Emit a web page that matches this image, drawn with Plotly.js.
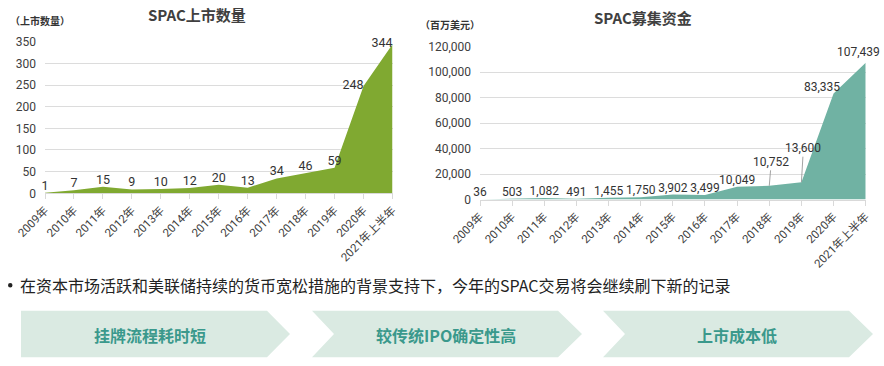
<!DOCTYPE html>
<html>
<head>
<meta charset="utf-8">
<script src="https://cdn.plot.ly/plotly-3.0.1.min.js"></script>
<style>html,body{margin:0;padding:0;background:#fff;}#chart{width:884px;height:366px;}</style>
</head>
<body>
<div id="chart"></div>
<script>
// ---- data ----
const years = ['2009年','2010年','2011年','2012年','2013年','2014年','2015年','2016年','2017年','2018年','2019年','2020年','2021年上半年'];
const listingCounts = [1, 7, 15, 9, 10, 12, 20, 13, 34, 46, 59, 248, 344];
const fundsRaised = [36, 503, 1082, 491, 1455, 1750, 3902, 3499, 10049, 10752, 13600, 83335, 107439];
const leftTitle = 'SPAC上市数量';
const rightTitle = 'SPAC募集资金';
const leftUnit = '（上市数量）';
const rightUnit = '（百万美元）';
const bulletText = '在资本市场活跃和美联储持续的货币宽松措施的背景支持下，今年的SPAC交易将会继续刷下新的记录';
const highlights = ['挂牌流程耗时短', '较传统IPO确定性高', '上市成本低'];

// ---- helpers (pixel -> paper) ----
const W = 884, H = 366;
const px = x => x / W;
const py = y => (H - y) / H;

const FONT = 'Roboto, "Noto Sans CJK SC", sans-serif';
const CJK = '"Noto Sans CJK SC", Roboto, sans-serif';
const LBL = {family: FONT, size: 12, color: '#333'};

const fmt = v => v.toLocaleString('en-US');
const leftPos = listingCounts.map((v, i) => i >= 11 ? 'middle left' : 'top center');
const leaderIdx = [9, 10];
const n = fundsRaised.length;
const annIdx = [n - 2, n - 1];
const rightText = fundsRaised.map((v, i) => (leaderIdx.includes(i) || annIdx.includes(i)) ? '' : fmt(v));

const traces = [
  {
    x: years, y: listingCounts, type: 'scatter', mode: 'lines+text',
    fill: 'tozeroy', fillcolor: '#80A931', line: {width: 0, color: '#80A931'},
    text: listingCounts.map(String), textposition: leftPos,
    textfont: {family: FONT, size: 12.5, color: '#333'},
    cliponaxis: false, hoverinfo: 'skip', xaxis: 'x', yaxis: 'y'
  },
  {
    x: years, y: fundsRaised, type: 'scatter', mode: 'lines+text',
    fill: 'tozeroy', fillcolor: '#70B2A3', line: {width: 0, color: '#70B2A3'},
    text: rightText, textposition: 'top center',
    textfont: LBL,
    cliponaxis: false, hoverinfo: 'skip', xaxis: 'x2', yaxis: 'y2'
  }
];

const xCommon = {
  type: 'category', range: [0, years.length - 1], tickangle: -45,
  showline: true, linecolor: '#d9d9d9', linewidth: 1,
  ticks: 'outside', ticklen: 5, tickcolor: '#d9d9d9',
  showgrid: false, zeroline: false, automargin: false,
  tickfont: {family: FONT, size: 11.5, color: '#404040'}
};
const yCommon = {
  showline: false, gridcolor: '#dcdcdc', gridwidth: 1, zeroline: false,
  ticks: '', automargin: false, ticklabelstandoff: 8,
  tickfont: {family: FONT, size: 12, color: '#404040'}
};

const annotations = [
  {text: '<b>' + leftTitle + '</b>', xref: 'paper', yref: 'paper', x: px(197), y: py(14), showarrow: false,
   font: {family: CJK, size: 15, color: '#404040'}, xanchor: 'center', yanchor: 'middle'},
  {text: '<b>' + rightTitle + '</b>', xref: 'paper', yref: 'paper', x: px(643), y: py(17), showarrow: false,
   font: {family: CJK, size: 15, color: '#404040'}, xanchor: 'center', yanchor: 'middle'},
  {text: '<b>' + leftUnit + '</b>', xref: 'paper', yref: 'paper', x: px(8), y: py(21), showarrow: false,
   font: {family: CJK, size: 10, color: '#333'}, xanchor: 'left', yanchor: 'middle'},
  {text: '<b>' + rightUnit + '</b>', xref: 'paper', yref: 'paper', x: px(418), y: py(25), showarrow: false,
   font: {family: CJK, size: 10, color: '#333'}, xanchor: 'left', yanchor: 'middle'},
  {text: bulletText, xref: 'paper', yref: 'paper', x: px(18), y: py(285), showarrow: false,
   font: {family: CJK, size: 16, color: '#222'}, xanchor: 'left', yanchor: 'middle'}
];

leaderIdx.forEach((i, k) => {
  annotations.push({
    xref: 'x2', yref: 'y2', x: years[i], y: fundsRaised[i],
    text: fmt(fundsRaised[i]), showarrow: true, arrowhead: 0,
    arrowwidth: 0.8, arrowcolor: '#8c8c8c', ax: 2, ay: k === 0 ? -24 : -34, standoff: 0,
    font: LBL
  });
});
annIdx.forEach((i, k) => {
  annotations.push({
    xref: 'x2', yref: 'y2', x: years[i], y: fundsRaised[i],
    text: fmt(fundsRaised[i]), showarrow: false, xanchor: 'right', yanchor: 'middle',
    xshift: k === 0 ? 8 : 16, yshift: k === 0 ? 6 : 11, font: LBL
  });
});

const chevX = [[21, 267, 290, 21], [312, 558, 582, 334], [603, 849, 873, 625]];
const chevTextX = [150, 446, 737];
const shapes = [
  {type: 'circle', xref: 'paper', yref: 'paper', x0: px(8), x1: px(12.5), y0: py(283), y1: py(287.5),
   fillcolor: '#222', line: {width: 0}}
];
chevX.forEach((c, i) => {
  const [l, f, t, nn] = c;
  const top = 310.7, bot = 357.3, mid = 334;
  let d = `M${px(l)},${py(top)} L${px(f)},${py(top)} L${px(t)},${py(mid)} L${px(f)},${py(bot)} L${px(l)},${py(bot)}`;
  if (i > 0) d += ` L${px(nn)},${py(mid)}`;
  d += ' Z';
  shapes.push({type: 'path', xref: 'paper', yref: 'paper', path: d, fillcolor: '#DAEAE2', line: {width: 0}, layer: 'below'});
  annotations.push({text: '<b>' + highlights[i] + '</b>', xref: 'paper', yref: 'paper', x: px(chevTextX[i]), y: py(335),
    showarrow: false, font: {family: CJK, size: 16, color: '#3A998C'}, xanchor: 'center', yanchor: 'middle'});
});

const layout = {
  width: W, height: H, margin: {l: 0, r: 0, t: 0, b: 0},
  paper_bgcolor: '#fff', plot_bgcolor: 'rgba(0,0,0,0)', showlegend: false,
  xaxis: Object.assign({}, xCommon, {domain: [px(45), px(392.5)], anchor: 'y'}),
  yaxis: Object.assign({}, yCommon, {domain: [py(193.3), py(41.7)], range: [0, 350], dtick: 50, anchor: 'x'}),
  xaxis2: Object.assign({}, xCommon, {domain: [px(480), px(865.7)], anchor: 'y2'}),
  yaxis2: Object.assign({}, yCommon, {domain: [py(199.5), py(46.7)], range: [0, 120000], dtick: 20000, tickformat: ',', anchor: 'x2'}),
  annotations: annotations, shapes: shapes
};

Plotly.newPlot('chart', traces, layout, {staticPlot: true, displayModeBar: false});
</script>
</body>
</html>
